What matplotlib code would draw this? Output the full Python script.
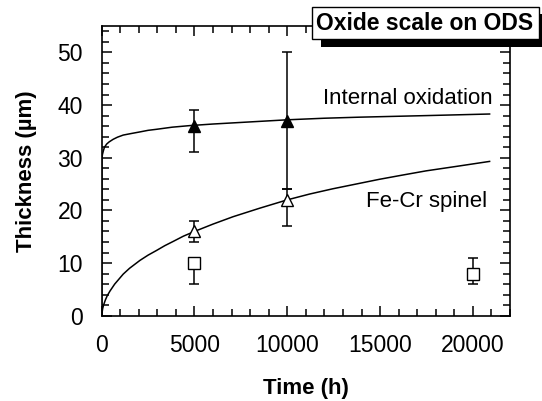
import matplotlib
matplotlib.use('Agg')
from matplotlib import pyplot as plt
from matplotlib.patches import Rectangle
from matplotlib.ticker import MultipleLocator

plt.rcParams['font.family'] = ['Liberation Sans', 'DejaVu Sans']

# fitted curves
io_time = [0, 10, 20, 40, 90, 150, 270, 400, 620, 850, 1160, 1600, 2060, 2500, 2960,
           3800, 4750, 6000, 7000, 8500, 10000, 12000, 13900, 15700, 17500, 19200, 20900]
io_thick = [0, 29.5, 30.0, 30.6, 31.3, 32.0, 32.6, 33.0, 33.5, 33.9, 34.3, 34.6, 34.9, 35.2, 35.4,
            35.8, 36.1, 36.4, 36.6, 36.9, 37.2, 37.5, 37.7, 37.85, 38.0, 38.15, 38.3]

sp_time = [0, 50, 100, 200, 300, 450, 700, 1160, 1500, 2060, 2500, 2960, 3400, 3850, 4400,
           5000, 6000, 7080, 8500, 10000, 11200, 12450, 14960, 16200, 17470, 19200, 20900]
sp_thick = [0, 1.3, 2.0, 3.0, 3.8, 4.7, 6.0, 7.9, 9.0, 10.5, 11.5, 12.4, 13.3, 14.1, 15.1,
            16.0, 17.4, 18.8, 20.4, 22.0, 23.1, 24.1, 25.9, 26.7, 27.5, 28.4, 29.3]

# measured points
io_pts_t = [5000, 10000]
io_pts_y = [36, 37]
io_err_lo = [5, 13]
io_err_hi = [3, 13]

sp_pts_t = [5000, 10000]
sp_pts_y = [16, 22]
sp_err_lo = [2, 5]
sp_err_hi = [2, 2]

sq_pts_t = [5000, 20000]
sq_pts_y = [10, 8]
sq_err_lo = [4, 2]
sq_err_hi = [0, 3]

fig = plt.figure(figsize=(5.42, 4.01), dpi=100)
ax = fig.add_axes([0.1876, 0.2127, 0.7534, 0.7223])

ax.plot(io_time, io_thick, color='black', lw=1.1)
ax.plot(sp_time, sp_thick, color='black', lw=1.1)

eb = dict(fmt='none', ecolor='black', elinewidth=1.1, capsize=3.8, capthick=1.1)
ax.errorbar(io_pts_t, io_pts_y, yerr=[io_err_lo, io_err_hi], **eb)
ax.errorbar(sp_pts_t, sp_pts_y, yerr=[sp_err_lo, sp_err_hi], **eb)
ax.errorbar(sq_pts_t, sq_pts_y, yerr=[sq_err_lo, sq_err_hi], **eb)

ax.plot(io_pts_t, io_pts_y, '^', ms=8, mfc='black', mec='black', zorder=5)
ax.plot(sp_pts_t, sp_pts_y, '^', ms=8, mfc='white', mec='black', mew=1.0, zorder=5)
ax.plot(sq_pts_t, sq_pts_y, 's', ms=8, mfc='white', mec='black', mew=1.0, zorder=5)

ax.text(21060, 41.3, 'Internal oxidation', ha='right', va='center', fontsize=16)
ax.text(20760, 21.6, 'Fe-Cr spinel', ha='right', va='center', fontsize=16)

ax.set_xlim(0, 22000)
ax.set_ylim(0, 55)
ax.xaxis.set_major_locator(MultipleLocator(5000))
ax.xaxis.set_minor_locator(MultipleLocator(1000))
ax.yaxis.set_major_locator(MultipleLocator(10))
ax.yaxis.set_minor_locator(MultipleLocator(2))
ax.tick_params(which='both', direction='in', top=True, right=True, width=1.1, labelsize=16.5)
ax.tick_params(which='major', length=7, pad=13.5)
ax.tick_params(which='minor', length=5)
for s in ax.spines.values():
    s.set_linewidth(1.2)

ax.set_xlabel('Time (h)', fontsize=16, fontweight='bold', va='center')
ax.set_ylabel('Thickness (µm)', fontsize=16, fontweight='bold', va='center')
ax.xaxis.set_label_coords(0.5, -0.25)
ax.yaxis.set_label_coords(-0.185, 0.5)

# title box with drop shadow
W, H = 542.0, 401.0
fig.patches.append(Rectangle((321 / W, 1 - 47 / H), 240 / W, 33 / H,
                             transform=fig.transFigure, facecolor='black',
                             edgecolor='none', zorder=10))
fig.patches.append(Rectangle((311.7 / W, 1 - 39 / H), 227 / W, 32 / H,
                             transform=fig.transFigure, facecolor='white',
                             edgecolor='black', lw=1.0, zorder=11))
fig.text(425 / W, 1 - 23 / H, 'Oxide scale on ODS', ha='center', va='center',
         fontsize=16.5, fontweight='bold', zorder=12)

fig.savefig('out.png', dpi=100)
